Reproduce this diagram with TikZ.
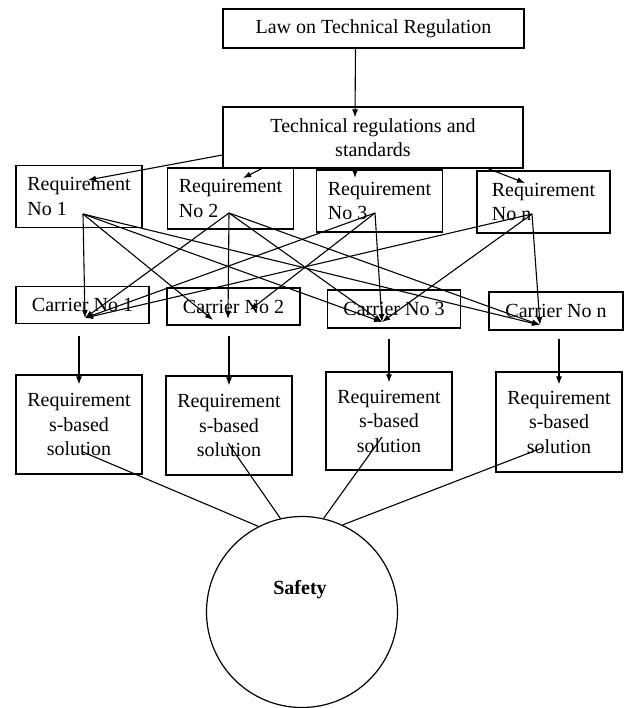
\documentclass[tikz,border=0pt]{standalone}
\usepackage{fontspec}
\setmainfont{Liberation Serif}
\usetikzlibrary{arrows.meta}
\begin{document}
\begin{tikzpicture}[x=1pt,y=-1pt,
  box/.style={draw, line width=1.2pt, inner sep=2pt, font=\fontsize{20}{24.5}\selectfont},
  reqbox/.style={box, minimum width=126pt, minimum height=62pt, align=left},
  carbox/.style={box, minimum width=133pt, minimum height=37pt},
  solbox/.style={box, minimum width=126pt, minimum height=99pt, align=center},
  arr/.style={-{Latex[length=8pt,width=6pt]}, line width=1.1pt},
  ln/.style={line width=1.1pt}]
\useasboundingbox (0,0) rectangle (627,708);
% top boxes
\node (law) [box, minimum width=301pt, minimum height=39pt] at (373.5,28.5) {Law on Technical Regulation};
\node (tech) [box, minimum width=300pt, minimum height=61pt, align=center] at (373,137.5) {Technical regulations and\\standards};
\draw [arr] ([xshift=-18pt]law.south) -- ([xshift=-18pt,yshift=-11pt]tech.north);
% requirements
\node (req1) [reqbox] at (79,196.5) {Requirement\\No 1};
\node (req2) [reqbox, minimum height=61pt] at (230.5,198.5) {Requirement\\No 2};
\node (req3) [reqbox] at (379.5,201) {Requirement\\No 3};
\node (reqn) [reqbox, minimum width=133pt] at (543.5,202) {Requirement\\No n};
\coordinate (t1) at (88,180);
\coordinate (t2) at (243,178);
\coordinate (t3) at (355,178);
\coordinate (tn) at (525,183);
\draw [arr] ([yshift=-17.5pt]tech.west) -- (t1);
\draw [arr] ([xshift=-111pt]tech.south) -- (t2);
\draw [arr] ([xshift=-18pt]tech.south) -- (t3);
\draw [arr] ([xshift=115pt]tech.south) -- (tn);
% carriers
\node (car1) [carbox] at (82.5,305) {Carrier No 1};
\node (car2) [carbox] at (233.5,306.5) {Carrier No 2};
\node (car3) [carbox, minimum height=38pt] at (394,309) {Carrier No 3};
\node (carn) [carbox, minimum width=134pt, minimum height=38pt] at (556,311) {Carrier No n};
%
\coordinate (r1o) at (83,214);
\coordinate (r2o) at (229,213);
\coordinate (r3o) at (375,213);
\coordinate (rno) at (532,214);
\coordinate (c1i) at (85,318);
\coordinate (c2a) at (213,320);
\coordinate (c2i) at (228,319);
\coordinate (c2b) at (250,310);
\coordinate (c3i) at (382,322);
\coordinate (cni) at (540,325);
\draw [arr] (r1o) -- (c1i);
\draw [arr] (r1o) -- (c2a);
\draw [arr] (r1o) -- (c3i);
\draw [arr] (r1o) -- (cni);
\draw [arr] (r2o) -- (c1i);
\draw [arr] (r2o) -- (c2i);
\draw [arr] (r2o) -- (c3i);
\draw [arr] (r2o) -- (cni);
\draw [arr] (r3o) -- (c1i);
\draw [arr] (r3o) -- (c2b);
\draw [arr] (r3o) -- (c3i);
\draw [arr] (rno) -- (c1i);
\draw [arr] (rno) -- (c3i);
\draw [arr] (rno) -- (cni);
% solutions
\node (sol1) [solbox] at (79,424.5) {Requirement\\s-based\\solution};
\node (sol2) [solbox] at (229,425.5) {Requirement\\s-based\\solution};
\node (sol3) [solbox, minimum height=98pt] at (389,421) {Requirement\\s-based\\solution};
\node (soln) [solbox, minimum height=100pt] at (559,422) {Requirement\\s-based\\solution};
\draw [arr] ([yshift=-12pt]car1.south -| sol1.north) -- ([yshift=-10pt]sol1.north);
\draw [arr] ([yshift=-10pt]car2.south -| sol2.north) -- ([yshift=-10pt]sol2.north);
\draw [arr] ([yshift=-10pt]car3.south -| sol3.north) -- ([yshift=-11pt]sol3.north);
\draw [arr] ([yshift=-8pt]carn.south -| soln.north) -- ([yshift=-13pt]soln.north);
% safety
\node (safety) [draw, circle, line width=1.2pt, minimum size=191pt, inner sep=0pt] at (302,612) {};
\node (safetylbl) [font=\fontsize{20}{24}\selectfont\bfseries] at (300,590) {Safety};
\coordinate (s1o) at (83,452);
\coordinate (s2o) at (228,443);
\coordinate (s3o) at (382,437);
\coordinate (sno) at (542,448);
\draw [ln] (s1o) -- (safety.117);
\draw [ln] (s2o) -- (safety.103);
\draw [ln] (s3o) -- (safety.77);
\draw [ln] (sno) -- (safety.65);
%
\end{tikzpicture}
\end{document}
